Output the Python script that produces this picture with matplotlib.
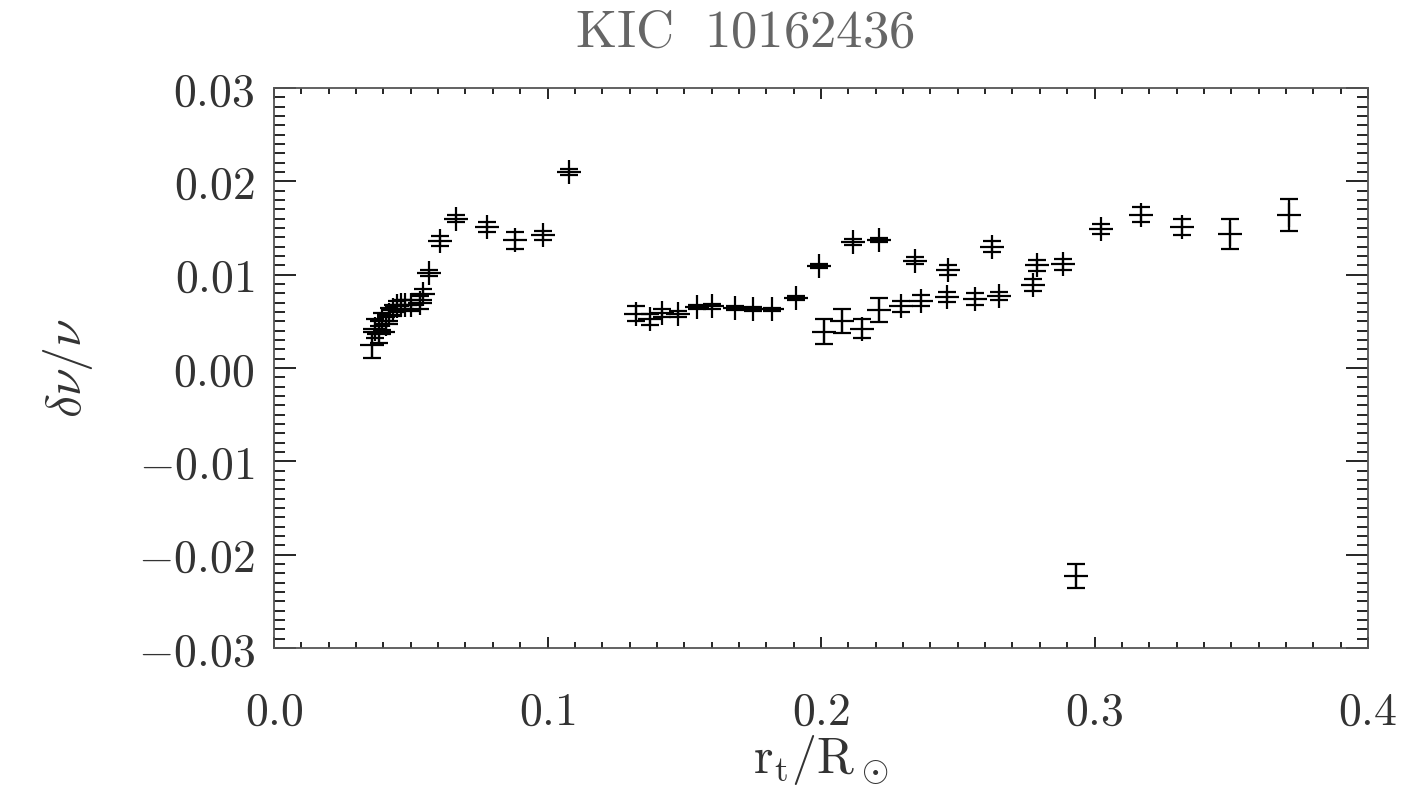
import matplotlib
matplotlib.use("Agg")
import matplotlib.pyplot as plt
from matplotlib.ticker import MultipleLocator, FixedLocator, FixedFormatter

plt.rcParams['mathtext.fontset'] = 'cm'

# ---- data ----
r_t = [0.0357, 0.0370, 0.0385, 0.0395, 0.0410, 0.0420, 0.0435, 0.0450, 0.0465,
       0.0480, 0.0500, 0.0534, 0.0545, 0.0567, 0.0607, 0.0665, 0.0780, 0.0880,
       0.0983, 0.1080,
       0.1324, 0.1375, 0.1418, 0.1478, 0.1546, 0.1600, 0.1686, 0.1750, 0.1820,
       0.1910, 0.1993, 0.2117, 0.2212,
       0.2010, 0.2077, 0.2150, 0.2212, 0.2292, 0.2364, 0.2460, 0.2563, 0.2650,
       0.2776,
       0.2345, 0.2463, 0.2627, 0.2791, 0.2885, 0.3024, 0.3169, 0.3319, 0.3496,
       0.3711,
       0.2934]
dnu_nu = [0.0025, 0.0042, 0.0036, 0.0050, 0.0047, 0.0057, 0.0062, 0.0066, 0.0068,
          0.0068, 0.0067, 0.0070, 0.0079, 0.0102, 0.0136, 0.0160, 0.0151, 0.0137,
          0.0142, 0.0210,
          0.0058, 0.0052, 0.0059, 0.0058, 0.0065, 0.0066, 0.0064, 0.0063, 0.0063,
          0.0075, 0.0109, 0.0135, 0.0137,
          0.0039, 0.0050, 0.0042, 0.0062, 0.0066, 0.0072, 0.0076, 0.0074, 0.0077,
          0.0089,
          0.0115, 0.0105, 0.0130, 0.0110, 0.0111, 0.0149, 0.0164, 0.0151, 0.0144,
          0.0164,
          -0.0223]
err = [0.0014, 0.0010, 0.0009, 0.0009, 0.0008, 0.0007, 0.0006, 0.0006, 0.0005,
       0.0005, 0.0006, 0.0007, 0.0006, 0.00035, 0.0005, 0.00036, 0.0005, 0.0009,
       0.0005, 0.00036,
       0.0008, 0.0006, 0.00045, 0.0003, 0.0002, 0.0003, 0.0002, 0.0002, 0.00015,
       0.0002, 0.0002, 0.0003, 0.0002,
       0.0013, 0.0013, 0.0010, 0.0013, 0.0006, 0.0006, 0.0005, 0.0006, 0.00045,
       0.0006,
       0.0004, 0.0005, 0.0006, 0.0006, 0.0006, 0.00055, 0.0008, 0.0009, 0.0016,
       0.0017,
       0.0013]

xticks = [0.0, 0.1, 0.2, 0.3, 0.4]
xticklabels = ['$0.0$', '$0.1$', '$0.2$', '$0.3$', '$0.4$']
yticks = [-0.03, -0.02, -0.01, 0.00, 0.01, 0.02, 0.03]
yticklabels = ['$-0.03$', '$-0.02$', '$-0.01$', '$0.00$', '$0.01$', '$0.02$', '$0.03$']

fig = plt.figure(figsize=(14.02, 7.95), dpi=100)
ax = fig.add_axes([274/1402, 1 - 648/795, (1368-274)/1402, (648-88)/795])

ax.errorbar(r_t, dnu_nu, yerr=err, fmt='none', ecolor='black',
            elinewidth=1.6, capsize=6.8, capthick=1.6)
ax.plot(r_t, dnu_nu, linestyle='none', marker='+', markersize=17,
        markeredgewidth=1.6, color='black')

ax.set_xlim(0.0, 0.4)
ax.set_ylim(-0.03, 0.03)

ax.xaxis.set_major_locator(FixedLocator(xticks))
ax.xaxis.set_major_formatter(FixedFormatter(xticklabels))
ax.xaxis.set_minor_locator(MultipleLocator(0.01))
ax.yaxis.set_major_locator(FixedLocator(yticks))
ax.yaxis.set_major_formatter(FixedFormatter(yticklabels))
ax.yaxis.set_minor_locator(MultipleLocator(0.001))

ax.tick_params(axis='both', which='both', direction='in', top=True, right=True,
               color='black', labelcolor='#333333', labelsize=33)
ax.tick_params(axis='x', which='major', length=8, width=1.2, pad=30)
ax.tick_params(axis='x', which='minor', length=4, width=1.2)
ax.tick_params(axis='y', which='major', length=16, width=1.2, pad=14)
ax.tick_params(axis='y', which='minor', length=8, width=1.2)

for s in ax.spines.values():
    s.set_color('#555555')
    s.set_linewidth(1.3)

fig.text(745/1402, 1 - 32/795, r'$\mathrm{KIC\ \ 10162436}$', ha='center', va='center',
         fontsize=38, color='#666666')
fig.text(821/1402, 1 - 760/795, r'$\mathrm{r_t/R_\odot}$', ha='center', va='center',
         fontsize=36, color='#333333')
fig.text(68/1402, 1 - 368/795, r'$\delta\nu/\nu$', ha='center', va='center',
         fontsize=36, color='#333333', rotation=90)

fig.savefig('out.png', dpi=100, facecolor='white')
